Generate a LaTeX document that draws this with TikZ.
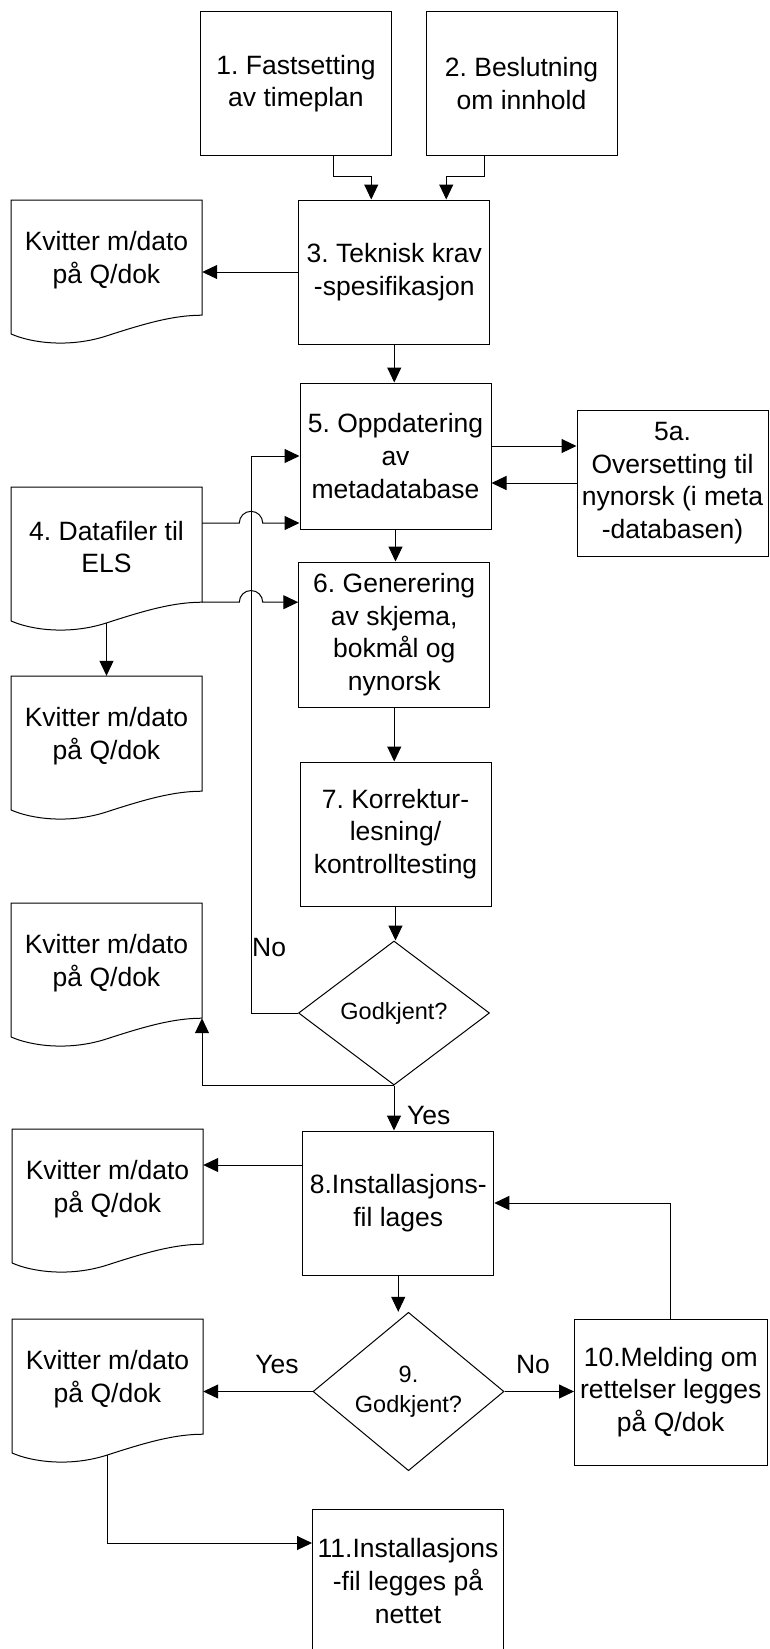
\documentclass[tikz,border=0pt]{standalone}
\usepackage{fontspec}
\setmainfont{Liberation Sans}
\usetikzlibrary{arrows.meta,shapes.geometric}
\frenchspacing

\newcommand{\boxfont}{\fontsize{26.5}{32.7}\selectfont\frenchspacing}
\newcommand{\decfont}{\fontsize{23.5}{30}\selectfont\frenchspacing}

\tikzset{
  flow/.style={draw=black, line width=1pt},
  stepbox/.style={flow, rectangle, minimum width=191pt, minimum height=144pt,
    inner sep=0pt, align=center, font=\boxfont},
  decision/.style={flow, diamond, minimum width=191pt, minimum height=144pt,
    inner sep=0pt, align=center, font=\decfont},
  docarea/.style={rectangle, minimum width=191pt, minimum height=144pt, inner sep=0pt},
  doctext/.style={align=center, font=\boxfont, inner sep=0pt},
  lbl/.style={font=\boxfont, inner sep=0pt},
  arr/.style={line width=1pt, -{Triangle[length=15pt,width=14pt]}}
}

% Document symbol: #1 name, #2 left x, #3 top y (downwards), #4 text
\newcommand{\docsym}[4]{%
  \node[docarea] (#1) at (#2+95.5,-#3-72) {};
  \draw[flow] (#2,-#3) -- (#2+191,-#3) -- (#2+191,-#3-115.2)
    .. controls (#2+162.35,-#3-115.2) and (#2+133.7,-#3-123.55) .. (#2+95.5,-#3-135.94)
    .. controls (#2+57.3,-#3-148.32) and (#2+19.1,-#3-142.56) .. (#2,-#3-133.92) -- cycle;
  \coordinate (#1-w) at (#2+95.5,-#3-135.94);
  \coordinate (#1-c) at (#2+191,-#3-115.2);
  \node[doctext] (#1-t) at (#2+95.5,-#3-60) {#4};
}

\begin{document}
\begin{tikzpicture}[x=1pt,y=1pt]
  \useasboundingbox (0,0) rectangle (769,-1649);
  \fill[white] (0,0) rectangle (769,-1649);
  \clip (0,0) rectangle (769,-1649);

  % process steps
  \node[stepbox] (b1) at (296,-83.5) {1. Fastsetting\\av timeplan};
  \node[stepbox] (b2) at (521.5,-83.5) {2. Beslutning\\om innhold};
  \node[stepbox] (b3) at (394.25,-272) {3. Teknisk krav\\-spesifikasjon};
  \node[stepbox, minimum height=146pt] (b5) at (395.5,-456) {5. Oppdatering\\av\\metadatabase};
  \node[stepbox, minimum height=146pt] (b5a) at (672.5,-483) {5a.\\Oversetting til\\nynorsk (i meta\\-databasen)};
  \node[stepbox, minimum height=145pt] (b6) at (394.25,-634.5) {6. Generering\\av skjema,\\bokmål og\\nynorsk};
  \node[stepbox] (b7) at (395.5,-834) {7. Korrektur-\\lesning/\\kontrolltesting};
  \node[decision] (d1) at (394,-1013) {Godkjent?};
  \node[stepbox] (b8) at (398.25,-1203) {8.Installasjons-\\fil lages};
  \node[decision, minimum height=143pt] (d9) at (408.5,-1391.5) {9.\\Godkjent?};
  \node[stepbox, minimum width=192.5pt, minimum height=146pt] (b10) at (670.75,-1392) {10.Melding om\\rettelser legges\\på Q/dok};
  \node[stepbox] (b11) at (408,-1581) {11.Installasjons\\-fil legges på\\nettet};

  % documents
  \docsym{k1}{11}{200}{Kvitter m/dato\\på Q/dok}
  \docsym{data}{11}{487}{4. Datafiler til\\ELS}
  \docsym{k2}{11}{676}{Kvitter m/dato\\på Q/dok}
  \docsym{k3}{11}{903}{Kvitter m/dato\\på Q/dok}
  \docsym{k4}{12}{1129}{Kvitter m/dato\\på Q/dok}
  \docsym{k5}{12}{1319}{Kvitter m/dato\\på Q/dok}

  % helper coordinates
  \coordinate (loopx) at (251,-457);
  \coordinate (hopA) at (251,-523);
  \coordinate (hopB) at (data-c -| loopx);
  \coordinate (b5out) at ([yshift=10pt]b5.east);
  \coordinate (b8out) at ([yshift=38pt]b8.west);
  \coordinate (b11in) at ([yshift=38pt]b11.west);
  \coordinate (b1out) at ([xshift=37pt]b1.south);
  \coordinate (b2out) at ([xshift=-37.5pt]b2.south);
  \coordinate (b3inA) at ([xshift=-23pt]b3.north);
  \coordinate (b3inB) at ([xshift=52pt]b3.north);

  % connectors
  \draw[arr] (b1out) |- ([yshift=23pt]b3inA) -- (b3inA);
  \draw[arr] (b2out) |- ([yshift=23pt]b3inB) -- (b3inB);
  \draw[arr] (b3.west) -- (k1.east |- b3.west);
  \draw[arr] (b3.south) -- (b3.south |- b5.north);
  \draw[arr] (b5out) -- (b5a.west |- b5out);
  \draw[arr] (b5a.west) -- (b5.east |- b5a.west);
  \draw[arr] (b5.south) -- (b5.south |- b6.north);

  % no-loop back to step 5
  \draw[arr] (d1.west) -- (d1.west -| loopx) |- (b5.west);
  \node[lbl, anchor=west] (no1) at (252,-948) {No};

  % data files, hopping over the loop line
  \draw[arr] (data.east |- hopA) -- ([xshift=-11.7pt]hopA)
    arc[start angle=180, end angle=0, radius=11.7pt] -- (b5.west |- hopA);
  \draw[arr] (data-c) -- ([xshift=-11.7pt]hopB)
    arc[start angle=180, end angle=0, radius=11.7pt] -- (b6.west |- hopB);
  \draw[arr] (data-w) -- (k2.north);

  \draw[arr] (b6.south) -- (b6.south |- b7.north);
  \draw[arr] (b7.south) -- (b7.south |- d1.north);

  \draw[arr] (d1.south) -| (k3-c);
  \draw[arr] (d1.south) -- (d1.south |- b8.north);
  \node[lbl, anchor=west] (yes1) at (407,-1115) {Yes};

  \draw[arr] (b8out) -- (k4.east |- b8out);
  \draw[arr] (b8.south) -- (b8.south |- d9.north);

  \draw[arr] (d9.west) -- (k5.east |- d9.west);
  \node[lbl] (yes9) at (277,-1364) {Yes};
  \draw[arr] (d9.east) -- (b10.west |- d9.east);
  \node[lbl] (no9) at (533,-1364) {No};
  \draw[arr] (b10.north) |- (b8.east);

  \draw[arr] (k5-w) |- (b11in);
\end{tikzpicture}
\end{document}
